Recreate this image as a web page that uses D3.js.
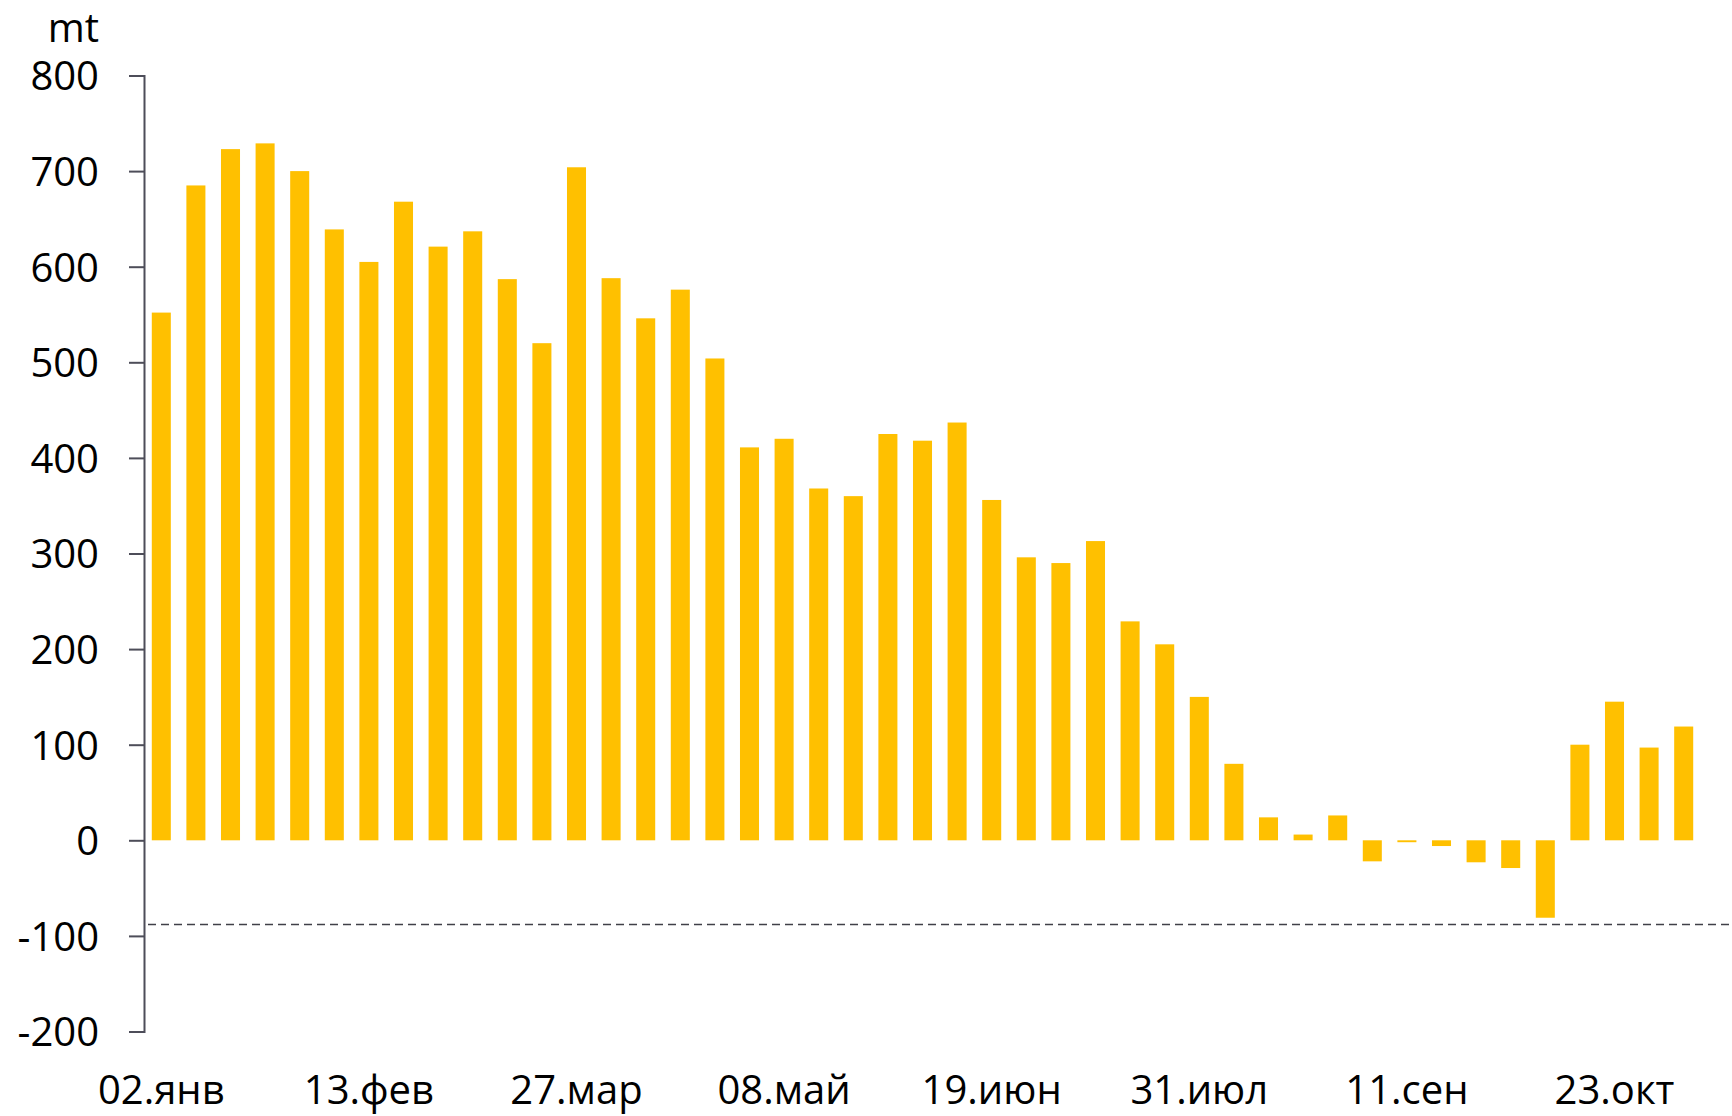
<!DOCTYPE html>
<html>
<head>
<meta charset="utf-8">
<script src="https://cdn.jsdelivr.net/npm/d3@7"></script>
<style>
  html, body { margin: 0; padding: 0; background: #ffffff; }
  svg { display: block; }
</style>
</head>
<body>
<svg id="chart" width="1732" height="1116"></svg>
<script>
const categories = [
  "02.янв","09.янв","16.янв","23.янв","30.янв",
  "06.фев","13.фев","20.фев","27.фев",
  "06.мар","13.мар","20.мар","27.мар",
  "03.апр","10.апр","17.апр","24.апр",
  "01.май","08.май","15.май","22.май","29.май",
  "05.июн","12.июн","19.июн","26.июн",
  "03.июл","10.июл","17.июл","24.июл","31.июл",
  "07.авг","14.авг","21.авг","28.авг",
  "04.сен","11.сен","18.сен","25.сен",
  "02.окт","09.окт","16.окт","23.окт","30.окт",
  "06.ноя"
];
const values = [
  552, 685, 723, 729, 700, 639, 605, 668, 621, 637,
  587, 520, 704, 588, 546, 576, 504, 411, 420, 368,
  360, 425, 418, 437, 356, 296, 290, 313, 229, 205,
  150, 80, 24, 6, 26, -22, -2, -6, -23, -29,
  -81, 100, 145, 97, 119
];
const xTickLabels = ["02.янв","13.фев","27.мар","08.май","19.июн","31.июл","11.сен","23.окт"];
const yTicks = [-200, -100, 0, 100, 200, 300, 400, 500, 600, 700, 800];
const referenceLevel = [-88];
const unitLabel = "mt";

const svg = d3.select("#chart");
const FONT = "'Open Sans', 'Noto Sans', sans-serif";
const axisColor = "#4d4d59";

const x = d3.scaleBand()
  .domain(categories)
  .range([144, 1701])
  .paddingInner(0.45)
  .paddingOuter(0.225);

const y = d3.scaleLinear()
  .domain([-200, 800])
  .range([1031.5, 75.5]);

// bars
svg.append("g")
  .selectAll("rect")
  .data(values)
  .join("rect")
  .attr("x", (d, i) => x(categories[i]))
  .attr("width", x.bandwidth())
  .attr("y", d => y(Math.max(0, d)))
  .attr("height", d => Math.abs(y(d) - y(0)))
  .attr("fill", "#FFC000");

// dashed reference line
svg.append("g")
  .selectAll("line")
  .data(referenceLevel)
  .join("line")
  .attr("x1", 148)
  .attr("x2", 1732)
  .attr("y1", d => y(d))
  .attr("y2", d => y(d))
  .attr("stroke", "#404048")
  .attr("stroke-width", 1.5)
  .attr("stroke-dasharray", "8,5");

// y axis
const yAxis = d3.axisLeft(y)
  .tickValues(yTicks)
  .tickSize(15)
  .tickPadding(30)
  .tickFormat(d => String(d));

const yg = svg.append("g")
  .attr("transform", "translate(144,0)")
  .call(yAxis);
yg.select(".domain").attr("stroke", axisColor).attr("stroke-width", 2);
yg.selectAll(".tick line").attr("stroke", axisColor).attr("stroke-width", 2);
yg.selectAll(".tick text")
  .attr("font-family", FONT)
  .attr("font-size", 40)
  .attr("fill", "#000")
  .attr("dy", "0.36em");

// unit label
svg.append("text")
  .attr("x", 99)
  .attr("y", 42)
  .attr("text-anchor", "end")
  .attr("font-family", FONT)
  .attr("font-size", 40)
  .attr("fill", "#000")
  .text(unitLabel);

// x axis labels
const xAxis = d3.axisBottom(x)
  .tickValues(xTickLabels)
  .tickSize(0)
  .tickPadding(0);

const xg = svg.append("g")
  .attr("transform", "translate(0,1104)")
  .call(xAxis);
xg.select(".domain").remove();
xg.selectAll(".tick text")
  .attr("font-family", FONT)
  .attr("font-size", 40)
  .attr("fill", "#000")
  .attr("y", 0)
  .attr("dy", 0);
</script>
</body>
</html>
